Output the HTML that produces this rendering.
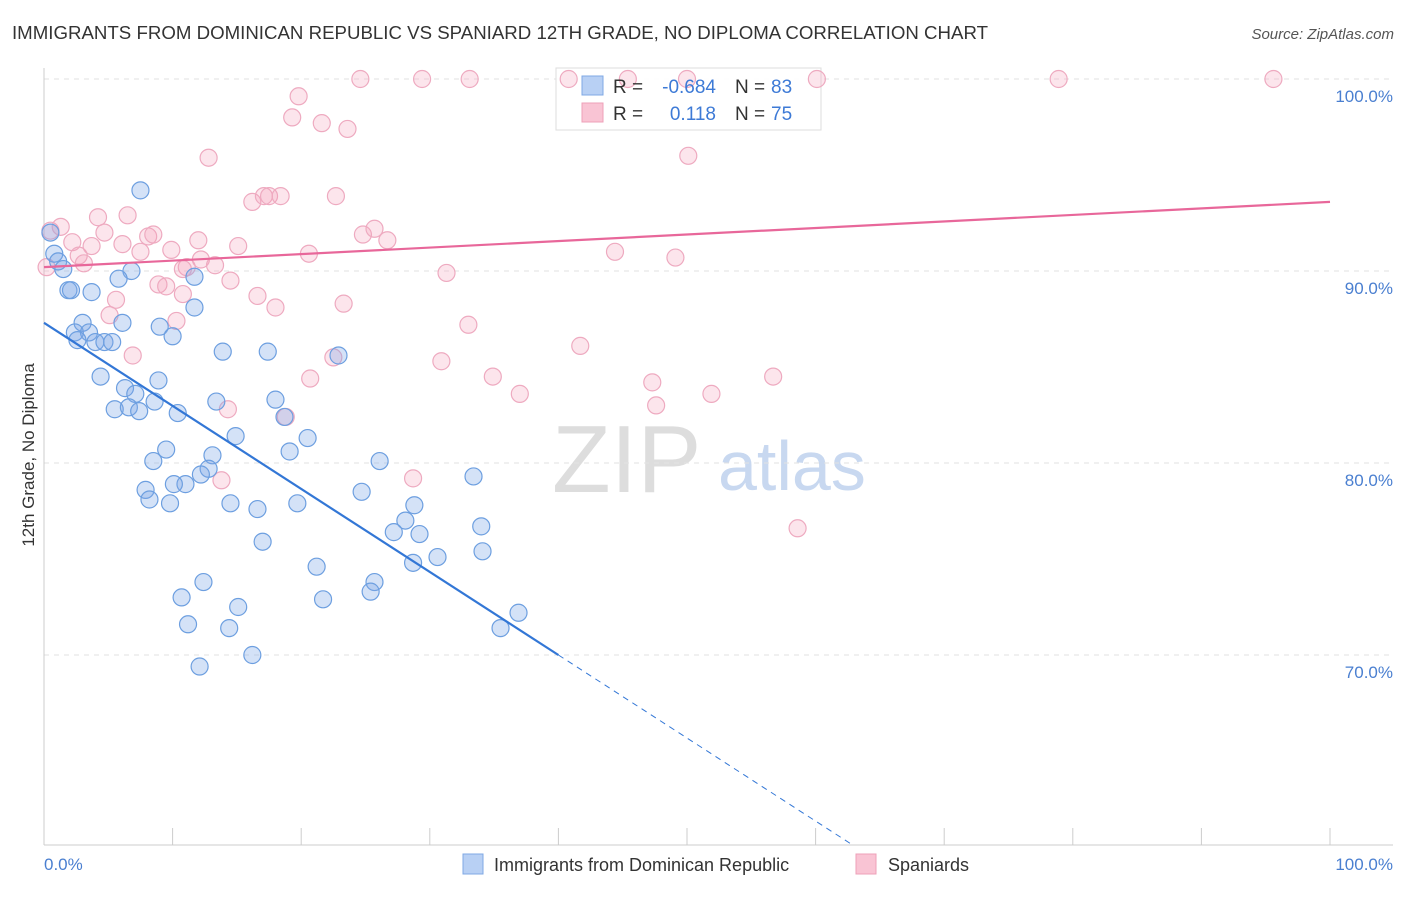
<!DOCTYPE html>
<html><head><meta charset="utf-8">
<style>
body{margin:0;background:#fff;font-family:"Liberation Sans",sans-serif;}
svg text{font-family:"Liberation Sans",sans-serif;}
</style></head>
<body>
<svg width="1406" height="892" viewBox="0 0 1406 892" xmlns="http://www.w3.org/2000/svg">
<text x="12" y="39" font-size="18" fill="#333" textLength="976" lengthAdjust="spacingAndGlyphs">IMMIGRANTS FROM DOMINICAN REPUBLIC VS SPANIARD 12TH GRADE, NO DIPLOMA CORRELATION CHART</text>
<text x="1394" y="39" font-size="15" fill="#555" font-style="italic" text-anchor="end">Source: ZipAtlas.com</text>
<g>
<text x="552" y="492" font-size="96" fill="#ddd" font-family="Liberation Serif,serif">ZIP</text>
<text x="718" y="490" font-size="70" fill="#c8d8f0">atlas</text>
</g>
<g id="grid"></g>
<g id="axes"></g>
<g>
<rect x="556" y="68" width="265" height="62" fill="rgba(255,255,255,0.9)" stroke="#ddd"/>
</g>
<g id="marks"></g>
<g>
<rect x="582" y="76" width="21" height="19" fill="#b8d0f4" stroke="#7fa8e4"/>
<rect x="582" y="103" width="21" height="19" fill="#f9c4d4" stroke="#eea0b8"/>
<text x="613" y="93" font-size="19" fill="#333">R =</text>
<text x="716" y="93" font-size="19" fill="#3d7ad6" text-anchor="end">-0.684</text>
<text x="735" y="93" font-size="19" fill="#333">N =</text>
<text x="771" y="93" font-size="19" fill="#3d7ad6">83</text>
<text x="613" y="120" font-size="19" fill="#333">R =</text>
<text x="716" y="120" font-size="19" fill="#3d7ad6" text-anchor="end">0.118</text>
<text x="735" y="120" font-size="19" fill="#333">N =</text>
<text x="771" y="120" font-size="19" fill="#3d7ad6">75</text>
</g>
<text transform="translate(34,455) rotate(-90)" font-size="17" fill="#333" text-anchor="middle">12th Grade, No Diploma</text>
<text x="44" y="870" font-size="17" fill="#4a7fd0">0.0%</text>
<text x="1393" y="870" font-size="17" fill="#4a7fd0" text-anchor="end">100.0%</text>
<g>
<rect x="463" y="854" width="20" height="20" fill="#b8d0f4" stroke="#7fa8e4"/>
<text x="494" y="871" font-size="18" fill="#333">Immigrants from Dominican Republic</text>
<rect x="856" y="854" width="20" height="20" fill="#f9c4d4" stroke="#eea0b8"/>
<text x="888" y="871" font-size="18" fill="#333">Spaniards</text>
</g>
</svg>
<script>
const blueX=[7.5,0.5,0.8,1.1,1.5,1.9,2.1,3.7,6.8,5.8,3.0,6.1,2.4,3.5,2.6,4.0,4.7,5.3,9.0,10.0,11.7,11.7,4.4,8.9,6.3,7.1,8.6,5.5,6.6,7.4,10.4,13.4,14.9,13.9,17.4,18.0,18.7,20.5,19.1,22.9,9.5,8.5,13.1,12.8,12.2,11.0,10.1,7.9,8.2,9.8,14.5,16.6,19.7,17.0,24.7,26.1,28.1,28.8,29.2,27.2,30.6,28.7,33.4,34.0,34.1,21.2,25.7,25.4,12.4,10.7,15.1,21.7,11.2,14.4,35.5,36.9,16.2,12.1];
const blueY=[94.2,92.0,90.9,90.5,90.1,89.0,89.0,88.9,90.0,89.6,87.3,87.3,86.8,86.8,86.4,86.3,86.3,86.3,87.1,86.6,88.1,89.7,84.5,84.3,83.9,83.6,83.2,82.8,82.9,82.7,82.6,83.2,81.4,85.8,85.8,83.3,82.4,81.3,80.6,85.6,80.7,80.1,80.4,79.7,79.4,78.9,78.9,78.6,78.1,77.9,77.9,77.6,77.9,75.9,78.5,80.1,77.0,77.8,76.3,76.4,75.1,74.8,79.3,76.7,75.4,74.6,73.8,73.3,73.8,73.0,72.5,72.9,71.6,71.4,71.4,72.2,70.0,69.4];
const pinkX=[0.5,1.3,2.2,3.7,2.7,3.1,4.2,4.7,6.5,6.1,7.5,8.1,8.5,9.9,12.0,15.1,11.1,12.2,13.3,14.5,8.9,9.5,5.6,5.1,10.8,10.3,16.6,18.0,23.3,16.2,17.1,17.5,18.4,22.7,12.8,19.8,19.3,21.6,23.6,24.6,29.4,33.1,40.8,45.4,50.0,60.1,78.9,95.6,50.1,24.8,25.7,26.7,20.6,31.3,44.4,49.1,33.0,41.7,30.9,22.5,20.7,34.9,37.0,47.3,51.9,56.7,47.6,14.3,18.8,28.7,13.8,58.6,6.9,10.8,0.2];
const pinkY=[92.1,92.3,91.5,91.3,90.8,90.4,92.8,92.0,92.9,91.4,91.0,91.8,91.9,91.1,91.6,91.3,90.2,90.6,90.3,89.5,89.3,89.2,88.5,87.7,88.8,87.4,88.7,88.1,88.3,93.6,93.9,93.9,93.9,93.9,95.9,99.1,98.0,97.7,97.4,100,100,100,100,100,100,100,100,100,96.0,91.9,92.2,91.6,90.9,89.9,91.0,90.7,87.2,86.1,85.3,85.5,84.4,84.5,83.6,84.2,83.6,84.5,83.0,82.8,82.4,79.2,79.1,76.6,85.6,90.1,90.2];
const blueTrend=[87.3,-0.4325];  // intercept, slope
const pinkTrend=[90.2,0.034];
const yTicks=[100,90,80,70];
const yTickLabels=["100.0%","90.0%","80.0%","70.0%"];
const xTicks=[0,10,20,30,40,50,60,70,80,90,100];

const NS="http://www.w3.org/2000/svg";
const X=v=>44+v*12.86;
const Y=v=>79+(100-v)*19.2;
function mk(tag,attrs,parent){const e=document.createElementNS(NS,tag);for(const k in attrs)e.setAttribute(k,attrs[k]);document.getElementById(parent).appendChild(e);return e;}
yTicks.forEach((t,i)=>{
  const l=mk('line',{x1:44,x2:1393,y1:Y(t),y2:Y(t),stroke:'#e2e2e2','stroke-dasharray':'5,5'},'grid');
  
  
  const tx=mk('text',{x:1393,y:Y(t)+23,'font-size':17,fill:'#4a7fd0','text-anchor':'end'},'axes');
  tx.textContent=yTickLabels[i];
  
  
});
const ax=mk('line',{x1:44,x2:1393,y1:845,y2:845,stroke:'#ccc'},'axes');


const ay=mk('line',{x1:44,x2:44,y1:68,y2:845,stroke:'#ccc'},'axes');


xTicks.forEach(t=>{
  const l=mk('line',{x1:X(t),x2:X(t),y1:828,y2:845,stroke:'#ccc'},'axes');
  
  
});
pinkX.forEach((v,i)=>{
  const c=mk('circle',{cx:X(v),cy:Y(pinkY[i]),r:8.5,fill:'rgba(244,160,188,0.28)',stroke:'#eeaac0','stroke-width':1.2},'marks');
  
  
});
blueX.forEach((v,i)=>{
  const c=mk('circle',{cx:X(v),cy:Y(blueY[i]),r:8.5,fill:'rgba(120,165,230,0.32)',stroke:'#6d9fe0','stroke-width':1.2},'marks');
  
  
});
const bEnd=40, bDash=(60.1-blueTrend[0])/blueTrend[1];
const bt=mk('line',{x1:X(0),y1:Y(blueTrend[0]),x2:X(bEnd),y2:Y(blueTrend[0]+blueTrend[1]*bEnd),stroke:'#3377d6','stroke-width':2.2},'marks');


const bd=mk('line',{x1:X(bEnd),y1:Y(blueTrend[0]+blueTrend[1]*bEnd),x2:X(bDash),y2:Y(blueTrend[0]+blueTrend[1]*bDash),stroke:'#3377d6','stroke-width':1,'stroke-dasharray':'6,5'},'marks');


const pt=mk('line',{x1:X(0),y1:Y(pinkTrend[0]),x2:X(100),y2:Y(pinkTrend[0]+pinkTrend[1]*100),stroke:'#e8679a','stroke-width':2.2},'marks');


</script>
</body></html>
